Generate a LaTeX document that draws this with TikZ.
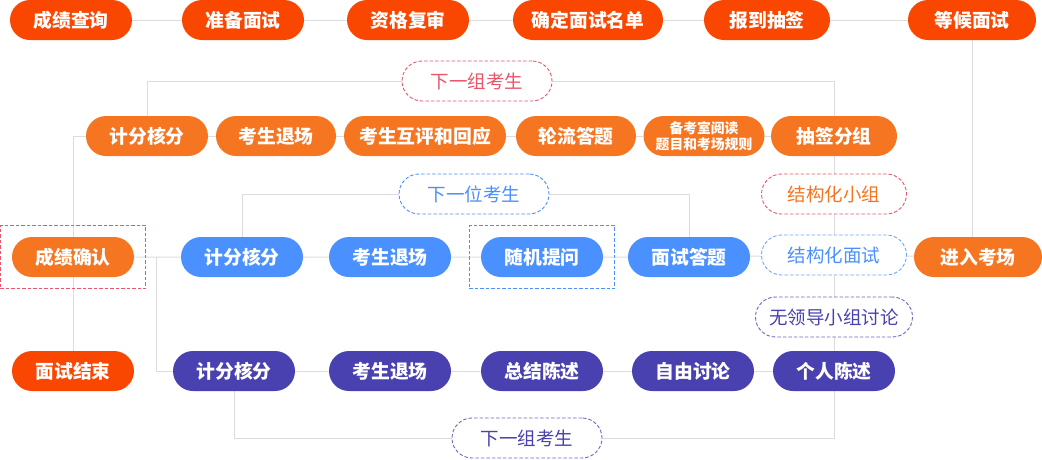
\documentclass[tikz,border=0pt]{standalone}
\usepackage{fontspec}
\setmainfont{Noto Sans CJK SC}
\usepackage{tikz}
\usetikzlibrary{positioning,fit,backgrounds}

\definecolor{topred}{HTML}{F94600}
\definecolor{stepora}{HTML}{F57521}
\definecolor{stepblue}{HTML}{4A90FE}
\definecolor{steppurple}{HTML}{4941B0}
\definecolor{tagpink}{HTML}{E9566C}
\definecolor{linegray}{HTML}{DCDCDC}

\begin{document}
\begin{tikzpicture}[x=1pt, y=-1pt,
    pill/.style={rectangle, rounded corners=20pt, minimum width=122pt, minimum height=40pt, inner sep=0pt, text=white, font=\fontsize{18.8pt}{20pt}\selectfont\bfseries},
    redpill/.style={pill, fill=topred},
    orangepill/.style={pill, fill=stepora},
    bluepill/.style={pill, fill=stepblue},
    purplepill/.style={pill, fill=steppurple},
    tag/.style={rectangle, rounded corners=20pt, draw, dash pattern=on 3.5pt off 2pt, line width=0.9pt, fill=white, minimum width=150pt, minimum height=40pt, inner sep=0pt, font=\fontsize{18.5pt}{20pt}\selectfont},
    frame/.style={draw, dash pattern=on 3.5pt off 2pt, line width=0.9pt, inner xsep=11.5pt, inner ysep=11.5pt},
    link/.style={draw=linegray, line width=1pt}]

    \useasboundingbox (0,0) rectangle (1042,459);

    % Preparation - top row
    \node [redpill] (query) at (71,20) {成绩查询};
    \node [redpill] (prep) at (243,20) {准备面试};
    \node [redpill] (check) at (408,20) {资格复审};
    \node [redpill, minimum width=150pt] (list) at (588,20) {确定面试名单};
    \node [redpill, minimum width=126pt] (sign) at (767,20) {报到抽签};
    \node [redpill, minimum width=128pt] (wait) at (972,20) {等候面试};

    % Structured group - orange row
    \node [orangepill] (score1) at (147,136) {计分核分};
    \node [orangepill, minimum width=120pt] (leave1) at (276,136) {考生退场};
    \node [orangepill, minimum width=162pt] (review) at (425,136) {考生互评和回应};
    \node [orangepill, minimum width=120pt] (turn) at (576,136) {轮流答题};
    \node [orangepill, minimum width=121pt, align=center, font=\fontsize{13.8pt}{16pt}\selectfont\bfseries] (read) at (704,136) {备考室阅读\\题目和考场规则};
    \node [orangepill, minimum width=126pt] (draw1) at (834,136) {抽签分组};

    % Structured interview - blue row
    \node [orangepill] (confirm) at (73,257) {成绩确认};
    \node [bluepill] (score2) at (242,257) {计分核分};
    \node [bluepill] (leave2) at (390,257) {考生退场};
    \node [bluepill] (ask) at (542,257) {随机提问};
    \node [bluepill] (answer) at (689,257) {面试答题};
    \node [orangepill, minimum width=128pt] (enter) at (978,257) {进入考场};

    % Leaderless discussion - purple row
    \node [redpill] (end) at (73,371) {面试结束};
    \node [purplepill] (score3) at (234,371) {计分核分};
    \node [purplepill] (leave3) at (390,371) {考生退场};
    \node [purplepill] (summary) at (542,371) {总结陈述};
    \node [purplepill] (free) at (693,371) {自由讨论};
    \node [purplepill] (personal) at (834,371) {个人陈述};

    % Dashed labels
    \node [tag, draw=tagpink, text=tagpink] (next1) at (477,81) {下一组考生};
    \node [tag, draw=stepblue, text=stepblue] (next2) at (474,194) {下一位考生};
    \node [tag, draw=tagpink, text=stepora, minimum width=145pt] (group) at (834,194) {结构化小组};
    \node [tag, draw=stepblue!80, text=stepblue, minimum width=145pt] (struct) at (834,255) {结构化面试};
    \node [tag, draw=steppurple!80, text=steppurple, minimum width=157pt] (nolead) at (834,317) {无领导小组讨论};
    \node [tag, draw=steppurple!80, text=steppurple] (next3) at (527,438) {下一组考生};

    % Dashed frames
    \node [frame, draw=tagpink, fit=(confirm)] (confirmbox) {};
    \node [frame, draw=stepblue, fit=(ask)] (askbox) {};

    \coordinate (split) at (156,257);

    % Connectors behind the nodes
    \begin{scope}[on background layer]
        \draw [link] (query) -- (prep) -- (check) -- (list) -- (sign) -- (wait);
        \draw [link] (wait.south) -- (wait.south |- enter.north);
        \draw [link] (enter) -- (struct) -- (answer) -- (ask) -- (leave2) -- (score2) -- (confirm);
        \draw [link] (draw1) -- (group) -- (struct) -- (nolead) -- (personal);
        \draw [link] (draw1) -- (read) -- (turn) -- (review) -- (leave1) -- (score1);
        \draw [link] (score1.north) |- (next1.west);
        \draw [link] (next1.east) -| (draw1.north);
        \draw [link] (score1.west) -| (confirm.north);
        \draw [link] (confirm) -- (end);
        \draw [link] (score2.north) |- (next2.west);
        \draw [link] (next2.east) -| (answer.north);
        \draw [link] (split) |- (score3.west);
        \draw [link] (score3) -- (leave3) -- (summary) -- (free) -- (personal);
        \draw [link] (score3.south) |- (next3.west);
        \draw [link] (next3.east) -| (personal.south);
    \end{scope}

\end{tikzpicture}
\end{document}
